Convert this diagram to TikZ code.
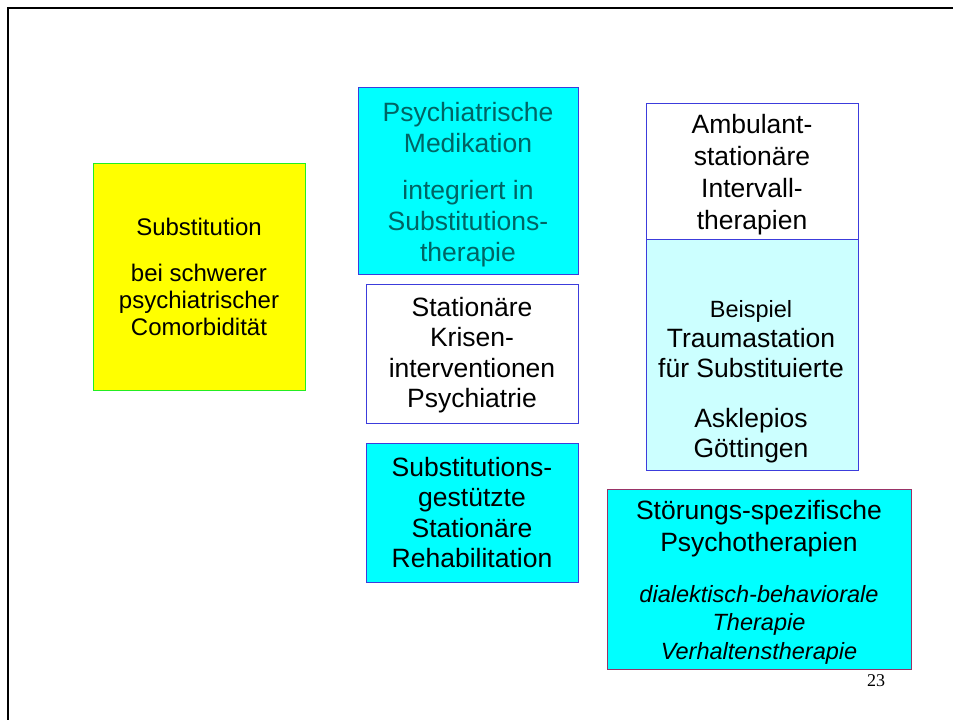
\documentclass[tikz,border=0pt]{standalone}
\usepackage{fontspec}
\setmainfont{Liberation Sans}
\newfontfamily\numfont{Liberation Serif}
\definecolor{ylw}{HTML}{FFFF00}
\definecolor{grn}{HTML}{22EE22}
\definecolor{cyn}{HTML}{00FFFF}
\definecolor{lcyn}{HTML}{CCFFFF}
\definecolor{blu}{RGB}{60,60,220}
\definecolor{mrn}{RGB}{153,51,102}
\definecolor{tealtxt}{RGB}{0,100,100}
\begin{document}
\begin{tikzpicture}[x=1pt,y=-1pt,
  box/.style={draw=blu, rectangle, inner sep=0pt, line width=1pt, align=center},
  big/.style={font=\fontsize{26.5}{30.5}\selectfont}]
\useasboundingbox (0,0) rectangle (953,720);
\fill[white] (0,0) rectangle (953,720);
\draw[line width=2.5pt] (8,722) -- (8,8) -- (955,8);

\node[box, draw=grn, fill=ylw, minimum width=212pt, minimum height=227pt,
  font=\fontsize{24}{27}\selectfont] (yel) at (199,276.5)
  {Substitution\\[19pt]bei schwerer\\psychiatrischer\\Comorbidität};

\node[box, fill=cyn, minimum width=220pt, minimum height=187pt, text=tealtxt,
  font=\fontsize{26.5}{31}\selectfont] (med) at (468,180.5)
  {\rule{0pt}{27pt}Psychiatrische\\Medikation\\[16pt]integriert in\\Substitutions-\\therapie};

\node[box, fill=white, big, minimum width=212pt, minimum height=139pt] (krise) at (472,353.5)
  {\rule{0pt}{22pt}Stationäre\\Krisen-\\interventionen\\Psychiatrie};

\node[box, fill=cyn, big, minimum width=212pt, minimum height=139pt] (reha) at (472,512.5)
  {Substitutions-\\gestützte\\Stationäre\\Rehabilitation};

\node[box, fill=lcyn, minimum width=212pt, minimum height=231pt] (trauma) at (752,354.5) {};
\node[align=center, inner sep=0pt, font=\fontsize{26.5}{30}\selectfont] (traumatxt) at (751,381.5)
  {{\fontsize{23.5}{30}\selectfont Beispiel}\\Traumastation\\für Substituierte\\[20pt]Asklepios\\Göttingen};

\node[box, fill=white, minimum width=212pt, minimum height=136pt,
  font=\fontsize{26.5}{32}\selectfont] (amb) at (752,171)
  {\rule{0pt}{25.5pt}Ambulant-\\stationäre\\Intervall-\\therapien};

\node[box, draw=mrn, fill=cyn, minimum width=304pt, minimum height=180pt,
  font=\fontsize{26.5}{28.5}\selectfont] (stoer) at (759,579)
  {\rule{0pt}{25.5pt}Störungs-spezifische\\[3.5pt]Psychotherapien\\[22.5pt]{\itshape\fontsize{23.5}{28.5}\selectfont dialektisch-behaviorale}\\{\itshape\fontsize{23.5}{28.5}\selectfont Therapie}\\{\itshape\fontsize{23.5}{28.5}\selectfont Verhaltenstherapie}};

\node[inner sep=0pt, font=\numfont\fontsize{18}{20}\selectfont] (pg) at (876,681) {23};
\end{tikzpicture}
\end{document}
